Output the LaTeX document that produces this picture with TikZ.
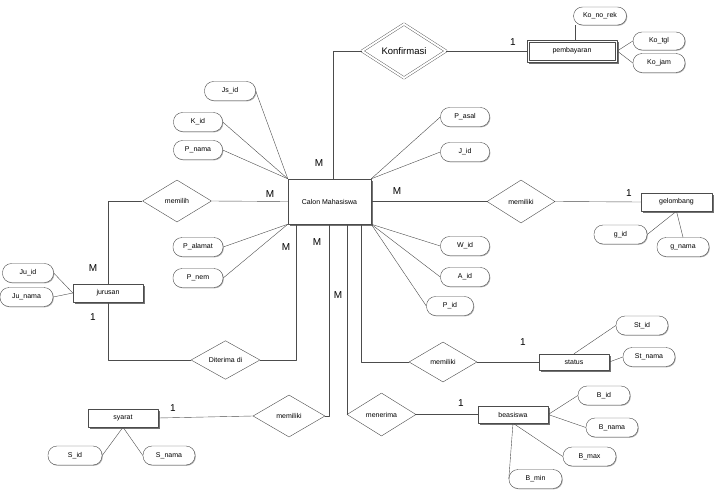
\documentclass[tikz,border=0pt]{standalone}
\usepackage{fontspec}
\setmainfont{Liberation Sans}
\usetikzlibrary{shapes.geometric,shadows}
\begin{document}
\begin{tikzpicture}[x=1pt,y=-1pt,line join=round,
	entity/.style={draw=black!70,fill=white,minimum width=70pt,minimum height=18pt,inner sep=1pt,font=\fontsize{7pt}{8pt}\selectfont,drop shadow={shadow xshift=1.5pt,shadow yshift=-1.5pt,fill=black!55,opacity=1}},
	attr/.style={draw=black!70,fill=white,rounded corners=9pt,minimum width=52pt,minimum height=19pt,inner sep=1pt,font=\fontsize{7pt}{8pt}\selectfont,drop shadow={shadow xshift=0.8pt,shadow yshift=-0.8pt,fill=black!30,opacity=1}},
	rel/.style={diamond,draw=black!70,fill=white,minimum width=69pt,minimum height=42pt,inner sep=0pt,font=\fontsize{7pt}{8pt}\selectfont},
	card/.style={font=\fontsize{10pt}{12pt}\selectfont},
	link/.style={draw=black!70}]
	\useasboundingbox (0,0) rectangle (716,498);
	% entitas
	\node[entity,minimum width=83pt,minimum height=45pt] (calon) at (329.5,201.5) {Calon Mahasiswa};
	\node[entity,minimum width=90pt,minimum height=22pt] (pembayaran) at (572,51) {pembayaran};
	\draw[link] ([shift={(2.5pt,-2.5pt)}]pembayaran.north west) rectangle ([shift={(-2.5pt,2.5pt)}]pembayaran.south east);
	\node[entity,minimum width=71pt] (gelombang) at (676.5,202) {gelombang};
	\node[entity] (jurusan) at (108,293) {jurusan};
	\node[entity,minimum height=16pt] (status) at (574,362) {status};
	\node[entity,minimum height=17pt] (beasiswa) at (513,414.5) {beasiswa};
	\node[entity] (syarat) at (123,418) {syarat};
	% relasi
	\node[rel,double,double distance=2pt,minimum width=84pt,minimum height=54pt,font=\fontsize{9.5pt}{11pt}\selectfont] (konfirmasi) at (404,51) {Konfirmasi};
	\node[rel] (memilih) at (177,201) {memilih};
	\node[rel,minimum height=38pt] (diterima) at (225.5,360) {Diterima di};
	\node[rel,minimum width=68pt,minimum height=43pt] (memgel) at (521,201.5) {memiliki};
	\node[rel,minimum width=68pt,minimum height=40pt] (memsta) at (443,362) {memiliki};
	\node[rel,minimum height=43pt] (menerima) at (381.5,414.5) {menerima};
	\node[rel,minimum width=72pt] (memsya) at (289,416) {memiliki};
	% atribut
	\node[attr,minimum width=53pt,minimum height=18pt] (konorek) at (600,16) {Ko\_no\_rek};
	\node[attr,minimum height=18pt] (kotgl) at (659,41) {Ko\_tgl};
	\node[attr] (kojam) at (659,63) {Ko\_jam};
	\node[attr,minimum width=51pt] (jsid) at (230,91) {Js\_id};
	\node[attr,minimum width=49pt] (kid) at (198,122) {K\_id};
	\node[attr,minimum width=49pt] (pnama) at (198,150) {P\_nama};
	\node[attr,minimum width=50pt] (palamat) at (198,247) {P\_alamat};
	\node[attr,minimum width=50pt] (pnem) at (198,278) {P\_nem};
	\node[attr,minimum width=49pt] (pasal) at (465,117) {P\_asal};
	\node[attr,minimum width=49pt] (jid) at (465,152) {J\_id};
	\node[attr,minimum width=49pt] (wid) at (465,246) {W\_id};
	\node[attr,minimum width=49pt] (aid) at (465,277) {A\_id};
	\node[attr,minimum width=47pt] (pid) at (450,306) {P\_id};
	\node[attr,minimum width=51pt] (juid) at (28,273) {Ju\_id};
	\node[attr,minimum width=53pt] (junama) at (26.5,297) {Ju\_nama};
	\node[attr,minimum width=53pt] (gid) at (620.5,234.5) {g\_id};
	\node[attr] (gnama) at (683,247) {g\_nama};
	\node[attr] (stid) at (642,325.5) {St\_id};
	\node[attr] (stnama) at (649,357) {St\_nama};
	\node[attr] (bid) at (604,395.5) {B\_id};
	\node[attr] (bnama) at (612,427.5) {B\_nama};
	\node[attr,minimum width=53pt] (bmax) at (589.5,456.5) {B\_max};
	\node[attr,minimum width=53pt] (bmin) at (535.5,479) {B\_min};
	\node[attr,minimum width=54pt] (sid) at (75,455.5) {S\_id};
	\node[attr] (snama) at (169,455.5) {S\_nama};
	% garis relasi
	\draw[link] (konfirmasi.west) -| ([xshift=3.5pt]calon.north);
	\draw[link] (konfirmasi.east) -- (pembayaran.west);
	\draw[link] (memilih.east) -- (calon.west);
	\draw[link] (memilih.west) -| (jurusan.north);
	\draw[link] (jurusan.south) |- (diterima.west);
	\draw[link] (diterima.east) -| ([xshift=-33.5pt]calon.south);
	\draw[link] (calon.east) -- (memgel.west);
	\draw[link] (memgel.east) -- (gelombang.west);
	\draw[link] (memsta.west) -| ([xshift=31.5pt]calon.south);
	\draw[link] (memsta.east) -- (status.west);
	\draw[link] (menerima.west) -- (menerima.west |- calon.south);
	\draw[link] (menerima.east) -- (beasiswa.west);
	\draw[link] (memsya.east) -| (calon.south);
	\draw[link] (memsya.west) -- (syarat.east);
	% garis atribut
	\draw[link] ([xshift=2pt]konorek.south west) -- ([xshift=2pt]konorek.south west |- pembayaran.north);
	\draw[link] (pembayaran.east) -- (kotgl.west);
	\draw[link] (pembayaran.east) -- (kojam.west);
	\draw[link] (calon.north west) -- (jsid.east);
	\draw[link] (calon.north west) -- (kid.east);
	\draw[link] (calon.north west) -- (pnama.east);
	\draw[link] (calon.south west) -- (palamat.east);
	\draw[link] (calon.south west) -- (pnem.east);
	\draw[link] (calon.north east) -- (pasal.west);
	\draw[link] (calon.north east) -- (jid.west);
	\draw[link] (calon.south east) -- (wid.west);
	\draw[link] (calon.south east) -- (aid.west);
	\draw[link] (calon.south east) -- (pid.west);
	\draw[link] (jurusan.west) -- (juid.east);
	\draw[link] (jurusan.west) -- (junama.east);
	\draw[link] (gelombang.south) -- (gid.east);
	\draw[link] (gelombang.south) -- (gnama.north);
	\draw[link] (status.north) -- (stid.west);
	\draw[link] (status.east) -- (stnama.west);
	\draw[link] (beasiswa.east) -- (bid.west);
	\draw[link] (beasiswa.east) -- (bnama.west);
	\draw[link] (beasiswa.south) -- (bmax.west);
	\draw[link] (beasiswa.south) -- (bmin.west);
	\draw[link] (syarat.south) -- (sid.east);
	\draw[link] (syarat.south) -- (snama.west);
	% kardinalitas
	\node[card] (c1) at (513,42) {1};
	\node[card] (c2) at (319,163) {M};
	\node[card] (c3) at (270,194) {M};
	\node[card] (c4) at (397,191) {M};
	\node[card] (c5) at (629,193) {1};
	\node[card] (c6) at (93,268) {M};
	\node[card] (c7) at (93,317) {1};
	\node[card] (c8) at (286,247) {M};
	\node[card] (c9) at (317,242) {M};
	\node[card] (c10) at (338,295) {M};
	\node[card] (c11) at (523,342) {1};
	\node[card] (c12) at (461,403) {1};
	\node[card] (c13) at (173,408) {1};
\end{tikzpicture}
\end{document}
